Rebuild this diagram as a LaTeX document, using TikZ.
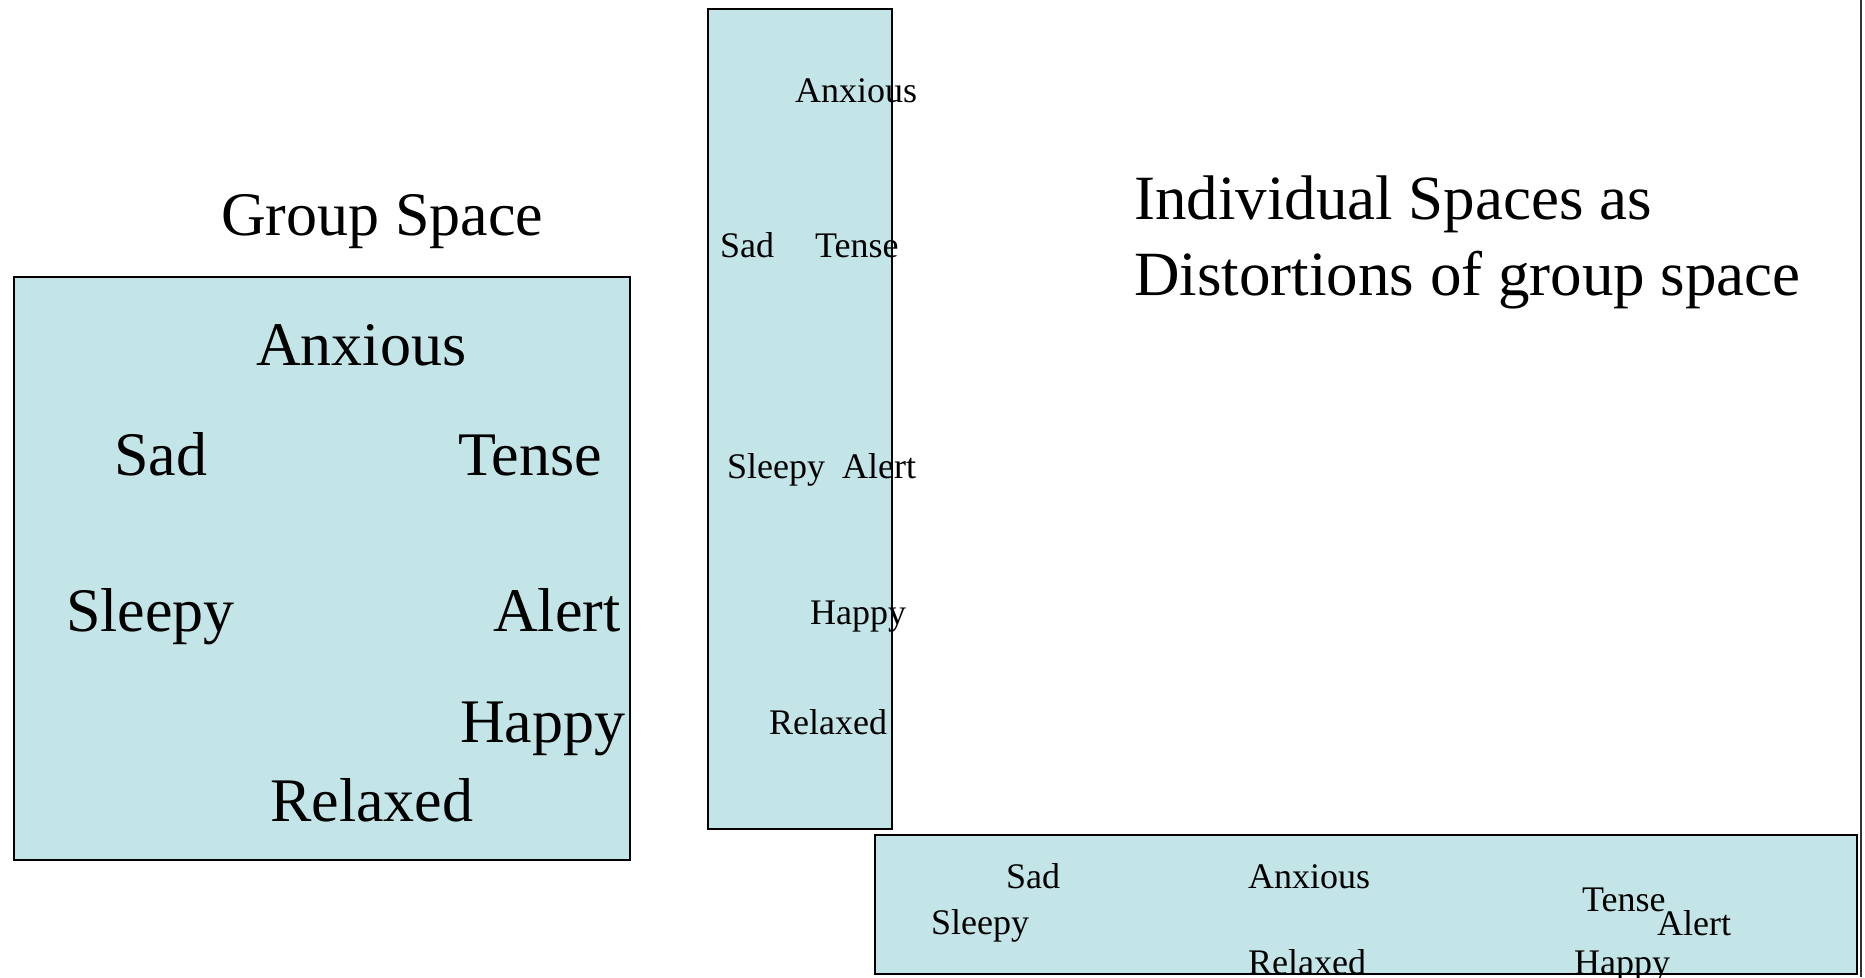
\documentclass[tikz,border=0pt]{standalone}
\usepackage{fontspec}
\setmainfont{Liberation Serif}
\definecolor{boxfill}{RGB}{196,229,231}
\tikzset{
  panel/.style={draw=black, fill=boxfill, line width=2.3pt},
  big/.style={anchor=base west, inner sep=0pt, font=\fontsize{62}{74}\selectfont},
  title/.style={anchor=base west, inner sep=0pt, font=\fontsize{63}{76}\selectfont},
  small/.style={anchor=base west, inner sep=0pt, font=\fontsize{36}{43}\selectfont},
  edge/.style={draw=black!80, line width=1.5pt}
}
\begin{document}
\begin{tikzpicture}[x=1pt,y=-1pt]
\useasboundingbox (0,0) rectangle (1865,977);
% panels
\draw[panel] (14,277) rectangle (630,860);
\draw[panel] (708,9) rectangle (892,829);
\draw[panel] (875,835) rectangle (1857,974);
\coordinate (rt) at (1861,0);
\coordinate (rb) at (1861,977);
\draw[edge] (rt) -- (rb);
% titles
\node[big] (gtitle) at (221,235) {Group Space};
\node[title] (ititle1) at (1134,219) {Individual Spaces as};
\node[title] (ititle2) at (1134,295) {Distortions of group space};
% group space labels
\node[big] (gAnx) at (256,365) {Anxious};
\node[big] (gSad) at (114,475) {Sad};
\node[big] (gTen) at (458,475) {Tense};
\node[big] (gSle) at (66,631) {Sleepy};
\node[big] (gAle) at (493,631) {Alert};
\node[big] (gHap) at (460,742) {Happy};
\node[big] (gRel) at (270,821) {Relaxed};
% tall panel labels
\node[small] (tAnx) at (795,102) {Anxious};
\node[small] (tSad) at (720,257) {Sad};
\node[small] (tTen) at (815,257) {Tense};
\node[small] (tSle) at (727,478) {Sleepy};
\node[small] (tAle) at (842,478) {Alert};
\node[small] (tHap) at (810,624) {Happy};
\node[small] (tRel) at (769,734) {Relaxed};
% wide panel labels
\node[small] (wSad) at (1006,888) {Sad};
\node[small] (wAnx) at (1248,888) {Anxious};
\node[small] (wTen) at (1582,911) {Tense};
\node[small] (wAle) at (1657,935) {Alert};
\node[small] (wSle) at (931,934) {Sleepy};
\node[small] (wRel) at (1248,974) {Relaxed};
\node[small] (wHap) at (1574,974) {Happy};
\end{tikzpicture}
\end{document}
